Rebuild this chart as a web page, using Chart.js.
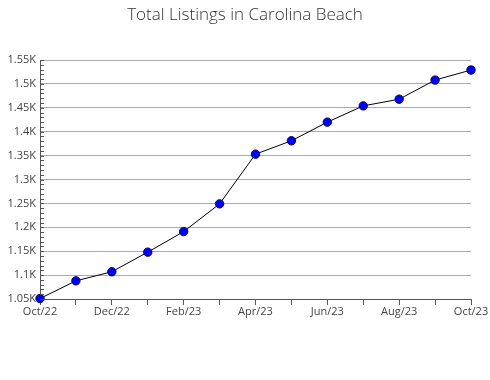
<!DOCTYPE html>
<html>
<head>
<meta charset="utf-8">
<script src="https://cdn.jsdelivr.net/npm/chart.js@4"></script>
<style>
  html, body { margin: 0; padding: 0; background: #fff; }
  #wrap { width: 490px; height: 380px; }
</style>
</head>
<body>
<div id="wrap"><canvas id="chart" width="490" height="380"></canvas></div>
<script>
// months shown on the x axis (every other one gets a label)
const months = ["Oct/22", "Nov/22", "Dec/22", "Jan/23", "Feb/23", "Mar/23", "Apr/23",
                "May/23", "Jun/23", "Jul/23", "Aug/23", "Sep/23", "Oct/23"];
// total listings per month
const listings = [1051, 1088, 1107, 1148, 1191, 1249, 1353, 1381, 1420, 1454, 1468, 1508, 1529];
// y axis range and steps
const yMin = 1050;
const yMax = 1550;
const yStep = 50;
const yMinorStep = 10;
const titleText = "Total Listings in Carolina Beach";

// small ticks on the y axis between the gridlines, plus the centred title
const extras = {
    id: "extras",
    afterDraw(chart) {
        const ctx = chart.ctx;
        const y = chart.scales.y;
        ctx.save();
        ctx.strokeStyle = "#555";
        ctx.lineWidth = 1;
        ctx.beginPath();
        for (let v = yMin; v <= yMax; v += yMinorStep) {
            const py = Math.round(y.getPixelForValue(v)) + 0.5;
            ctx.moveTo(y.right, py);
            ctx.lineTo(y.right + 4, py);
        }
        ctx.stroke();

        // title centred on the whole canvas
        ctx.fillStyle = "#333";
        ctx.font = "300 17px 'Open Sans'";
        ctx.textAlign = "center";
        ctx.textBaseline = "middle";
        ctx.fillText(titleText, chart.width / 2, 15);
        ctx.restore();
    }
};

const ctx = document.getElementById("chart").getContext("2d");
new Chart(ctx, {
    type: "line",
    data: {
        labels: months,
        datasets: [{
            data: listings,
            borderColor: "#000",
            borderWidth: 1,
            backgroundColor: "#0000ff",
            pointBackgroundColor: "#0000ff",
            pointBorderColor: "#000066",
            pointBorderWidth: 1,
            pointRadius: 4.2,
            tension: 0,
            clip: false,
        }],
    },
    options: {
        responsive: false,
        animation: false,
        layout: { padding: { left: 0, right: 19, top: 60, bottom: 51 } },
        plugins: {
            legend: { display: false },
            tooltip: { enabled: false },
            title: { display: false },
        },
        scales: {
            x: {
                type: "category",
                offset: false,
                afterFit: (scale) => { scale.height = 30; },
                grid: {
                    drawOnChartArea: false,
                    drawTicks: true,
                    tickLength: 6,
                    color: "#555",
                },
                border: { color: "#555" },
                ticks: {
                    autoSkip: false,
                    maxRotation: 0,
                    padding: 0,
                    color: "#444",
                    font: { family: "'Open Sans'", size: 11 },
                    callback: (val, i) => (i % 2 === 0 ? months[i] : ""),
                },
            },
            y: {
                min: yMin,
                max: yMax,
                afterFit: (scale) => { scale.width = 40; },
                grid: { color: "#aaa", drawTicks: false },
                border: { color: "#555" },
                ticks: {
                    stepSize: yStep,
                    padding: 4,
                    color: "#444",
                    font: { family: "'Open Sans'", size: 11 },
                    callback: (v) => (v / 1000) + "K",
                },
            },
        },
    },
    plugins: [extras],
});
</script>
</body>
</html>
